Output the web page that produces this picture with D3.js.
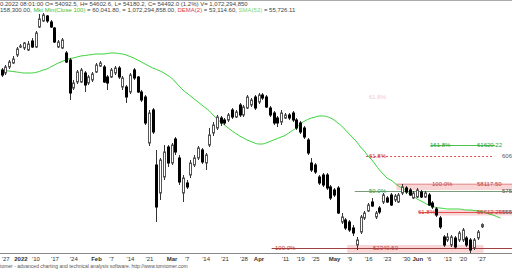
<!DOCTYPE html>
<html>
<head>
<meta charset="utf-8">
<script src="https://cdn.jsdelivr.net/npm/d3@7"></script>
<style>
  body { margin: 0; background: #fff; }
  svg { display: block; font-family: "Liberation Sans", Arial, sans-serif; }
</style>
</head>
<body>
<div id="chart"></div>
<script>
// daily OHLC
const opens = [68400,68130,68670,69030,69750,70470,70380,70200,71010,70470,72270,72810,73260,72720,72180,70470,70380,69930,69300,66780,
  67320,67320,68130,67230,67500,68220,68760,68670,67770,67770,68130,68580,66870,66870,66420,68400,67770,66420,65970,61830,
  64800,59850,57330,58770,61470,60030,62190,60480,57330,58230,58950,59850,60480,61200,60030,61650,62730,63180,64080,63900,
  63900,64800,64170,65250,64350,64980,65250,65970,65520,66150,65970,64980,64530,64080,63720,64080,64350,64530,63900,63630,
  63180,62100,60030,59850,58770,58950,58950,57870,57600,57780,54720,54900,54720,54180,52650,53820,55080,55710,56520,55170,
  55980,56520,56880,57150,56700,56520,57330,57780,57600,56880,56970,57420,56970,57150,56430,55890,55080,53370,53100,52650,
  53280,53100,53100,53280,53100,52380,53280,54290];
const highs = [68580,68850,69300,69660,70470,70740,70920,71010,71280,71910,73440,73530,73350,72900,72270,71100,71280,70110,69480,67500,
  68400,68580,68310,67950,68220,69030,69210,68850,67950,68580,68760,68760,67860,67050,68130,68580,67860,66600,66150,64800,
  64980,61200,60480,61650,61650,61830,62370,60750,58950,58500,60300,60750,61560,61380,60930,63180,63720,64350,64260,64080,
  64530,64980,64800,65430,65250,66150,65880,66150,66330,66330,66150,65160,64710,64260,64800,64530,64530,64710,64080,63810,
  63360,62280,60480,60030,58950,59130,59130,58050,57780,57960,55530,55080,54900,54450,53370,55350,55710,56430,56880,55710,
  56160,57330,57060,57330,57240,57330,58140,57960,57780,57510,57780,57600,57510,57330,56610,56070,55260,53550,53730,53550,
  53460,53910,54180,53460,53280,53280,54000,54600];
const lows = [67770,67950,68490,68940,69570,70380,70200,70110,70380,70380,72180,72720,72630,72180,70830,70380,70290,69030,65700,66600,
  67140,67230,66420,67050,67320,68130,68670,67230,66600,67680,67950,67590,66600,65430,66240,67500,66330,65520,63450,61560,
  62640,54720,56700,58500,59670,59850,60750,58050,56520,57690,58680,59670,60300,59940,59400,61470,62460,63000,63360,63450,
  63720,63990,64080,64170,64170,64890,65070,64800,65340,65700,64980,64170,63450,63270,63450,63990,63900,63720,63000,62640,
  62190,60750,59220,59040,58050,57870,57600,56700,56970,55440,54540,54000,53820,53460,52200,53640,54900,55620,56070,54990,
  55440,56340,56430,56160,56520,56430,57150,57240,57060,56790,56880,56880,56880,56160,55890,55170,54090,52470,52920,52470,
  52290,52920,52920,52470,51920,52200,53100,54180];
const closes = [67950,68670,69120,69390,70290,70560,70830,70740,70470,71730,72990,73350,72810,72270,70920,70920,71100,69120,66330,67230,
  68220,68400,67050,67770,68040,68850,69030,67320,67230,68400,68580,67770,67680,65970,67950,67680,66420,65700,63630,64530,
  62820,56070,60300,61020,60030,61650,61020,58320,58680,57870,60030,60480,61380,60120,60750,62550,63450,64170,63630,63630,
  64350,64170,64620,64350,65070,65970,65700,64980,66150,65880,65070,64350,63630,63630,64530,64350,64080,63900,63180,62820,
  62370,60930,59400,59220,58230,58050,57780,56880,57150,55530,55170,54180,54000,53730,53100,55170,55530,56250,56160,55530,
  55620,57150,56520,56250,57060,57150,57870,57420,57150,57330,57600,56970,57330,56250,56070,55350,54270,52650,53370,53370,
  52470,53730,54000,52650,52200,53100,53820,54490];
// moving average (runs a few bars past the last candle)
const maValues = [68400,68355,68310,68265,68220,68175,68130,68130,68130,68175,68265,68400,68490,68670,68850,69030,69165,69300,69435,69480,
  69570,69660,69705,69750,69795,69840,69840,69840,69885,69930,69930,69885,69840,69750,69615,69480,69300,69120,68940,68760,
  68580,68445,68310,68130,67905,67680,67320,66960,66600,66330,66060,65790,65520,65250,64980,64710,64350,63990,63720,63450,
  63180,62910,62685,62460,62280,62100,61965,61830,61740,61740,61830,61965,62100,62235,62370,62505,62730,62955,63180,63540,
  63765,63945,64080,64170,64260,64260,64215,64080,63900,63630,63360,63000,62640,62280,61920,61470,61110,60660,60300,59850,
  59400,59040,58680,58500,58230,57960,57780,57510,57240,57060,56790,56610,56430,56250,56160,56025,55980,55935,55890,55890,
  55890,55890,55845,55800,55800,55755,55710,55665,55575,55440,55350,55215,55080];

const tickIdx    = [1, 5, 9, 14, 19, 25, 29, 34, 39, 45, 49, 54, 59, 64, 68, 75, 79, 83, 88, 92, 97, 102, 107, 110, 113, 118, 122, 127];
const tickLabels = ["'27","2022","'10","'17","'24","Feb","'7","'14","'21","Mar","'7","'14","'21","'28","Apr","'11","'19","'25","May","'9","'16","'23","'30","Jun","'6","'13","'20","'27"];
const boldLabels = ["2022","Feb","Mar","Apr","May","Jun"];

// fibonacci annotations
const fibPct    = ["161.8%", "61.8%", "100.0%", "50.0%", "61.8%", "100.0%"];
const fibValues = [61620.22, 60650.00, 58117.50, 57550.00, 55612.25, 52340.50];
const fibStart  = [114, 97, 105, 94, 111, 72];
// price-axis labels, cut by the window edge in the original
const edgeLabels = ["606", "575", "555"];
// shaded zones: [top value, bottom value, first bar, last bar]
const zoneTop    = [58230, 55800, 52650];
const zoneBottom = [57600, 55300, 51950];
const zoneFrom   = [105, 115, 92];
const zoneTo     = [140, 140, 127];

const W = 512, H = 270;
const svg = d3.select('#chart').append('svg').attr('width', W).attr('height', H);

const x = d3.scaleLinear().domain([0, 127]).range([1.5, 481.5]);
const y = d3.scaleLinear().domain([51930, 74700]).range([253, 0]);

// top border
svg.append('line').attr('x1', 0).attr('x2', W).attr('y1', 0.5).attr('y2', 0.5)
  .style('stroke', '#aaa');

// fib bands
zoneTop.forEach((t, k) => {
  svg.append('rect')
    .attr('x', x(zoneFrom[k]) - 2).attr('width', Math.min(W, x(zoneTo[k]) + 2) - x(zoneFrom[k]) + 2)
    .attr('y', y(t)).attr('height', y(zoneBottom[k]) - y(t))
    .style('fill', '#f7caca').style('opacity', 0.8);
});

// fib lines
const fibColor = ['#49c449', '#e05050', '#e8a0a0', '#7a9a7a', '#e05050', '#a04040'];
fibValues.forEach((v, k) => {
  svg.append('line')
    .attr('x1', x(fibStart[k]) - 2).attr('x2', k === 0 ? 495 : (k === 1 ? 492 : W))
    .attr('y1', Math.round(y(v)) + 0.5).attr('y2', Math.round(y(v)) + 0.5)
    .style('stroke', fibColor[k])
    .style('stroke-dasharray', k === 1 ? '2,2' : null)
    .style('stroke-width', 1);
});

// MA line
const maLine = d3.line().x((d, i) => x(i)).y(d => y(d)).curve(d3.curveMonotoneX);
svg.append('path').datum(maValues).attr('d', maLine)
  .style('fill', 'none').style('stroke', '#39d339').style('stroke-width', 1);

// candles
const idx = d3.range(opens.length);
const candle = svg.selectAll('.candle').data(idx).enter().append('g').attr('class', 'candle');
candle.append('line')
  .attr('x1', i => Math.round(x(i)) + 0.5).attr('x2', i => Math.round(x(i)) + 0.5)
  .attr('y1', i => y(highs[i])).attr('y2', i => y(lows[i]))
  .style('stroke', '#333');
candle.append('rect')
  .attr('x', i => Math.round(x(i)) - 1 + 0.5)
  .attr('width', 2)
  .attr('y', i => y(Math.max(opens[i], closes[i])))
  .attr('height', i => Math.max(1, Math.abs(y(opens[i]) - y(closes[i]))))
  .style('fill', i => closes[i] >= opens[i] ? '#fff' : '#000')
  .style('stroke', i => closes[i] >= opens[i] ? '#555' : '#000');

// fib labels
const lbl = svg.append('g').style('font-size', '6px');
const fibLabelX = [430, 369, 432, 369, 418, 275];
const fibLabelColor = ['#2e9e2e', '#d03030', '#c04040', '#2e9e2e', '#d03030', '#c03030'];
fibValues.forEach((v, k) => {
  lbl.append('text').attr('x', fibLabelX[k]).attr('y', y(v) + 2)
    .style('fill', fibLabelColor[k]).text(fibPct[k]);
});
lbl.append('text').attr('x', 477).attr('y', y(fibValues[0]) + 2).style('fill', '#2e9e2e').text(d3.format('.2f')(fibValues[0]));
lbl.append('text').attr('x', 477).attr('y', y(fibValues[2]) + 2).style('fill', '#c04040').text(d3.format('.2f')(fibValues[2]));
lbl.append('text').attr('x', 477).attr('y', y(fibValues[4]) + 2).style('fill', '#c04040').text(d3.format('.2f')(fibValues[4]));
lbl.append('text').attr('x', 373).attr('y', y(fibValues[5]) + 2).style('fill', '#c04040').text(d3.format('.2f')(fibValues[5]));
[1, 3, 4].forEach((k, j) => {
  lbl.append('text').attr('x', 502).attr('y', y(fibValues[k]) + 2)
    .style('fill', '#555').text(edgeLabels[j]);
});
// faint level text left of the upper area
lbl.append('text').attr('x', 369).attr('y', 99).style('fill', '#f3c8c8').text('61.8%');

// x axis
const axis = d3.axisBottom(x).tickValues(tickIdx).tickSize(0)
  .tickFormat((d, i) => tickLabels[i]);
const ax = svg.append('g').attr('transform', 'translate(0,253)').call(axis);
ax.select('.domain').attr('d', 'M0,0.5H' + W).style('stroke', '#888');
ax.selectAll('text').attr('dy', '0.9em').style('font-size', '6px').style('fill', '#333')
  .style('font-weight', (d, i) => boldLabels.includes(tickLabels[i]) ? 'bold' : 'normal');

// header
const hdr = svg.append('g').style('font-size', '6px').style('fill', '#444');
hdr.append('text').attr('x', 0).attr('y', 6)
  .text('0.2022 08:01:00 O= 54092.5, H= 54602.6, L= 54180.2, C= 54492.0 (1.2%) V= 1,072,294,850');
const l2 = hdr.append('text').attr('x', 0).attr('y', 12);
l2.append('tspan').text('158,300.00, ');
l2.append('tspan').style('fill', '#3bbf3b').text('Mkt Min(Close 100)');
l2.append('tspan').text(' = 60,041.80,          ');
l2.append('tspan').text('= 1,072,294,858.00, ');
l2.append('tspan').style('fill', '#e04040').text('DEMA(2)');
l2.append('tspan').text(' = 53,114.60, ');
l2.append('tspan').style('fill', '#7ad67a').text('SMA(52)');
l2.append('tspan').text(' = 55,726.11');

svg.append('text').attr('x', 0).attr('y', 268).style('font-size', '5px').style('fill', '#555')
  .text('tomer - advanced charting and technical analysis software. http://www.tomtomer.com');
</script>
</body>
</html>
